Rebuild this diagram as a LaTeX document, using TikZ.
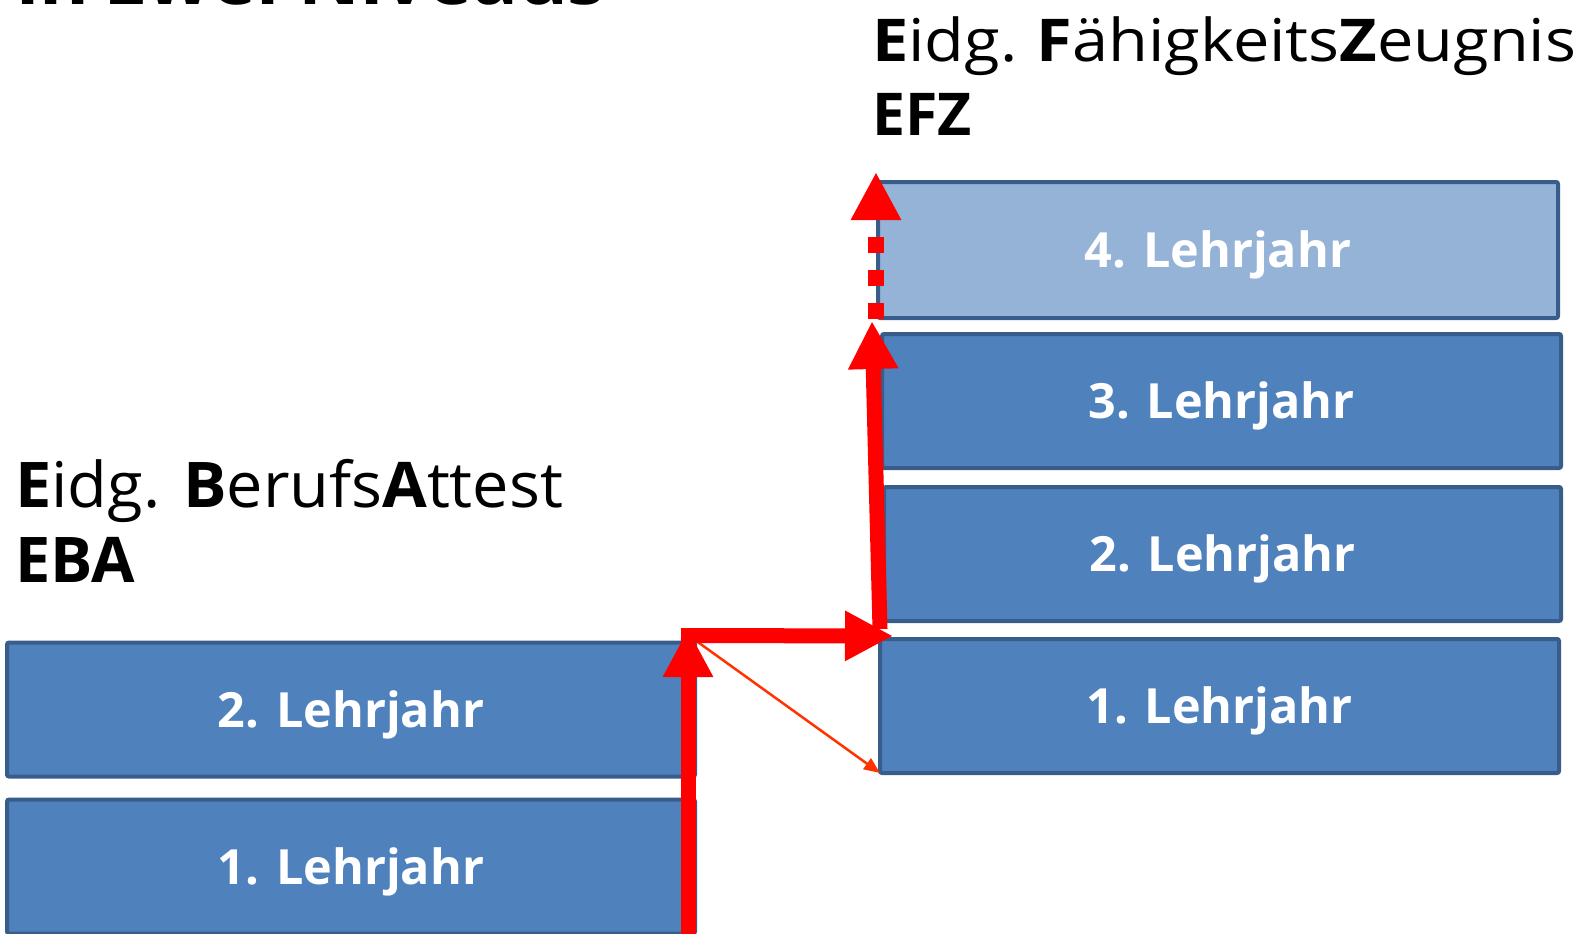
\documentclass[tikz,border=0pt]{standalone}
\usepackage{fontspec}
\setmainfont{Open Sans}
\usetikzlibrary{arrows.meta}
\definecolor{boxfill}{RGB}{79,129,189}
\definecolor{boxlight}{RGB}{149,179,215}
\definecolor{boxline}{RGB}{56,93,138}
\definecolor{arrowred}{RGB}{255,0,0}
\definecolor{thinred}{RGB}{255,51,0}
\begin{document}
\begin{tikzpicture}[x=1pt,y=-1pt,
  yearbox/.style={draw=boxline, line width=4pt, fill=boxfill, rounded corners=2pt,
    minimum width=#1, minimum height=134pt, inner sep=0pt, text=white,
    font=\fontsize{48.5}{48.5}\selectfont\bfseries, text height=35pt, text depth=0pt},
  heading/.style={anchor=base west, inner sep=0pt, font=\fontsize{63}{63}\selectfont},
  bigarrow/.style={draw=arrowred, line width=15pt,
    -{Triangle[length=48pt,width=47pt]}},
  thinarrow/.style={draw=thinred, line width=2.5pt,
    -{Triangle[length=16pt,width=13pt]}}
]
\useasboundingbox (0,0) rectangle (1593,934);
\begin{scope}
\clip (0,0) rectangle (1593,934);
\node[anchor=base west, inner sep=0pt, font=\fontsize{76}{76}\selectfont\bfseries] (title) at (16,5) {in zwei Niveaus};
% left (EBA) boxes
\node[yearbox=688pt] (l2) at (351,709.5) {2. Lehrjahr};
\node[yearbox=688pt] (l1) at (351,866.5) {1. Lehrjahr};
\end{scope}
% right (EFZ) boxes
\node[yearbox=680pt, fill=boxlight, minimum height=136pt] (r4) at (1218,250) {4. Lehrjahr};
\node[yearbox=679pt] (r3) at (1221.5,401) {3. Lehrjahr};
\node[yearbox=677pt] (r2) at (1222.5,554) {2. Lehrjahr};
\node[yearbox=679pt] (r1) at (1219.5,706) {1. Lehrjahr};
% headings
\node[heading] (ebatext) at (15,507) {\scalebox{1.03}[1]{\textbf{E}idg. \textbf{B}erufs\textbf{A}ttest}};
\node[heading] (ebaabbr) at (15,582) {\textbf{EBA}};
\node[heading, font=\fontsize{59}{59}\selectfont] (efztext) at (872,62) {\scalebox{1.1}[1]{\textbf{E}idg.\hspace{-3pt} \textbf{F}ähigkeits\textbf{Z}eugnis}};
\node[heading, font=\fontsize{59}{59}\selectfont] (efzabbr) at (872,135) {\textbf{EFZ}};
% arrow coordinates
\coordinate (start) at (688,940);
\coordinate (junction) at (688,629);
\coordinate (jh) at (681,635.5);
\coordinate (corner) at (893,636);
\coordinate (upstart) at (880,629);
\coordinate (uptip) at (872,321);
\coordinate (dashstart) at (876,319);
\coordinate (dashtip) at (876,172);
\coordinate (thinstart) at (688,635);
\coordinate (thintip) at (880,773);
% arrows
\draw[thinarrow] (thinstart) -- (thintip);
\draw[bigarrow] (start) -- (junction);
\draw[bigarrow] (jh) -- (corner);
\draw[bigarrow] (upstart) -- (uptip);
\draw[bigarrow, line width=16pt, dash pattern=on 16pt off 17pt] (dashstart) -- (dashtip);
\end{tikzpicture}
\end{document}
